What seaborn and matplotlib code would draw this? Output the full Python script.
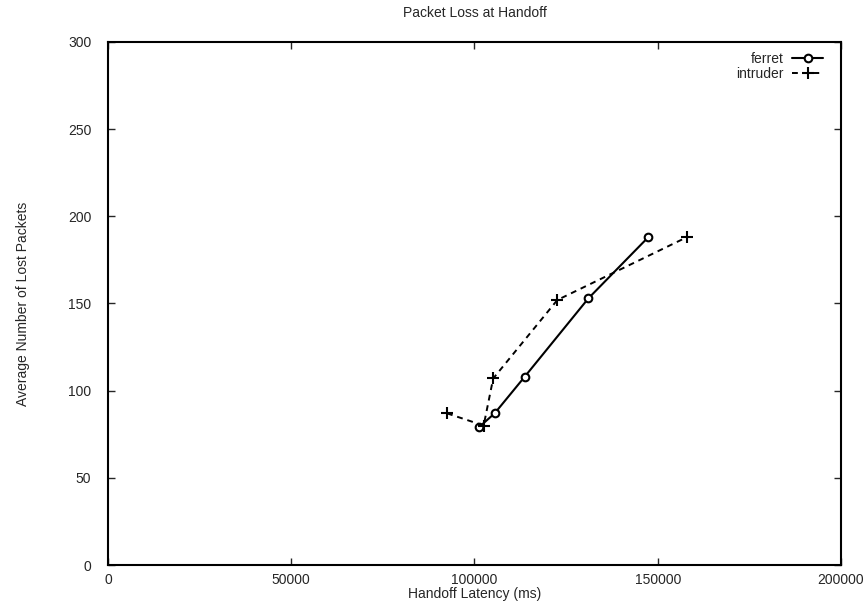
import matplotlib
matplotlib.use("Agg")
import matplotlib.pyplot as plt
import seaborn as sns
import pandas as pd

# Data
ferret_latency = [101200, 105500, 113700, 131100, 147400]
ferret_lost = [79, 87, 108, 153, 188]
intruder_latency = [92500, 102500, 105100, 122600, 157900]
intruder_lost = [87, 80, 107, 152, 188]

x_ticks = [0, 50000, 100000, 150000, 200000]
y_ticks = [0, 50, 100, 150, 200, 250, 300]

sns.set_theme(style="ticks")
plt.rcParams['font.family'] = ['Liberation Sans', 'DejaVu Sans']

df = pd.concat([
    pd.DataFrame({"latency": ferret_latency, "lost": ferret_lost, "series": "ferret"}),
    pd.DataFrame({"latency": intruder_latency, "lost": intruder_lost, "series": "intruder"}),
], ignore_index=True)

fig = plt.figure(figsize=(8.68, 6.05), dpi=100)
ax = fig.add_axes([0.1244, 0.0661, 0.8445, 0.8645])

sns.lineplot(data=df[df.series == "ferret"], x="latency", y="lost", ax=ax,
             color="black", linewidth=1.5, marker="o", markersize=5.5,
             markerfacecolor="white", markeredgecolor="black", markeredgewidth=1.5,
             estimator=None, sort=False, label="ferret")
sns.lineplot(data=df[df.series == "intruder"], x="latency", y="lost", ax=ax,
             color="black", linewidth=1.4, linestyle=(0, (3, 2.5)), marker="+", markersize=8,
             markeredgecolor="black", markeredgewidth=1.5,
             estimator=None, sort=False, label="intruder")

ax.set_xlim(0, 200000)
ax.set_ylim(0, 300)
ax.set_xticks(x_ticks)
ax.set_yticks(y_ticks)
ax.set_xticklabels([str(t) for t in x_ticks], fontsize=10)
ax.set_yticklabels([str(t) for t in y_ticks], fontsize=10)
ax.tick_params(axis="x", direction="in", length=5, width=1, top=True, pad=6)
ax.tick_params(axis="y", direction="in", length=5, width=1, right=True, pad=12)
for s in ax.spines.values():
    s.set_linewidth(1.5)
    s.set_color("black")

ax.set_xlabel("Handoff Latency (ms)", fontsize=10, labelpad=0)
ax.set_ylabel("Average Number of Lost Packets", fontsize=10, labelpad=27)
ax.set_title("Packet Loss at Handoff", fontsize=10, pad=18)

leg = ax.legend(loc="upper right", bbox_to_anchor=(0.983, 0.9916), frameon=False,
                markerfirst=False, fontsize=10, handlelength=2.2, handletextpad=0.65,
                borderaxespad=0, labelspacing=0.05)

fig.savefig("out.png", dpi=100, facecolor="white")
